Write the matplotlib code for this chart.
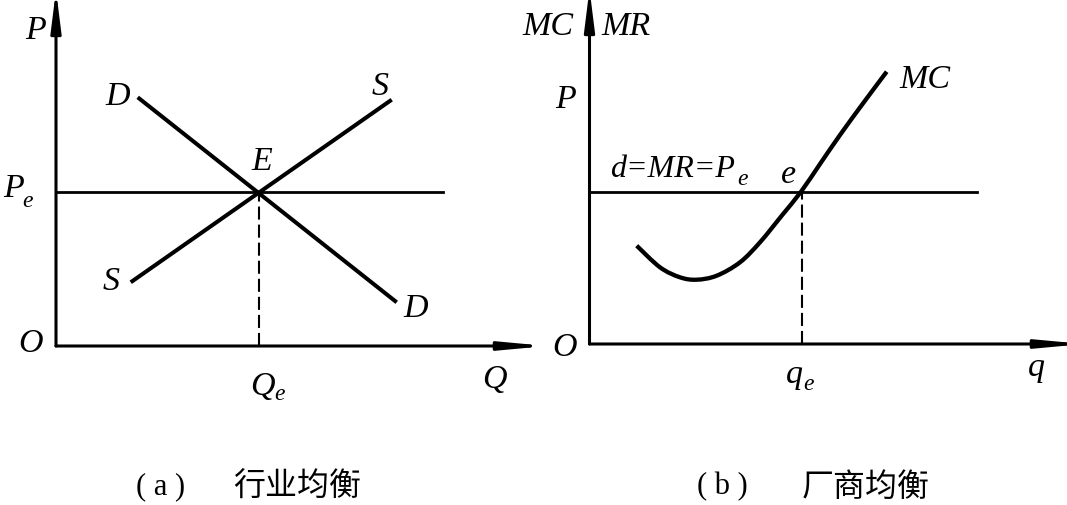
import matplotlib
matplotlib.use('Agg')
import matplotlib.pyplot as plt
from matplotlib.path import Path
from matplotlib.patches import PathPatch

plt.rcParams['font.family'] = ['Liberation Serif', 'DejaVu Serif']
plt.rcParams['lines.scale_dashes'] = False

# ---------------- data: panel (a) industry equilibrium ----------------
demand_q = [8.17, 34.07]
demand_p = [24.87, 4.37]
supply_q = [7.47, 33.57]
supply_p = [6.37, 24.63]
price_e_a = 15.4
qty_e_a = 20.3
price_line_end_a = 38.65
axis_end_a = (47.4, 34.6)

# ---------------- data: panel (b) firm equilibrium ----------------
mc_q = [4.72, 7.05, 9.05, 10.72, 12.72, 15.05, 17.05, 19.22, 21.15, 23.05, 25.05, 27.38, 29.72]
mc_c = [9.83, 7.67, 6.67, 6.43, 6.83, 8.17, 10.17, 12.83, 15.23, 18.0, 20.9, 24.1, 27.23]
price_e_b = 15.25
qty_e_b = 21.2
price_line_end_b = 38.75
axis_end_b = (47.75, 34.5)

caption_tags = ['( a )', '( b )']
captions = ['行业均衡', '厂商均衡']

W, H = 1067, 506
fig = plt.figure(figsize=(W / 100, H / 100), dpi=100)
axA = fig.add_axes([0, 0, 530 / W, 1])
axB = fig.add_axes([530 / W, 0, 537 / W, 1])
axA.set_xlim(-5.6, 47.4)
axA.set_ylim(-15.9, 34.7)
axB.set_xlim(-5.95, 47.75)
axB.set_ylim(-16.1, 34.5)
for ax in (axA, axB):
    ax.set_axis_off()

LBL = 24.5
SUB = 17


def axis_arrow(ax, x0, y0, x1, y1, hl, hw):
    # the filled head is drawn slightly short of xy; extend to reach the target tip
    dx = 1.7 if x1 != x0 else 0
    dy = 1.0 if y1 != y0 else 0
    ax.annotate('', xy=(x1 + dx, y1 + dy), xytext=(x0, y0),
                arrowprops=dict(arrowstyle=f'-|>,head_length={hl},head_width={hw}',
                                lw=2.2, color='black', shrinkA=0, shrinkB=0,
                                mutation_scale=1, clip_on=False),
                annotation_clip=False)


def lab(ax, x, y, s, size=LBL, ha='center'):
    ax.text(x, y, s, fontsize=size, style='italic', ha=ha, va='baseline', color='black')


def smooth_path(xs, ys):
    pts = list(zip(xs, ys))
    n = len(pts)
    verts = [pts[0]]
    codes = [Path.MOVETO]
    for i in range(n - 1):
        p0 = pts[i - 1] if i > 0 else pts[i]
        p1 = pts[i]
        p2 = pts[i + 1]
        p3 = pts[i + 2] if i + 2 < n else pts[i + 1]
        c1 = (p1[0] + (p2[0] - p0[0]) / 6, p1[1] + (p2[1] - p0[1]) / 6)
        c2 = (p2[0] - (p3[0] - p1[0]) / 6, p2[1] - (p3[1] - p1[1]) / 6)
        verts += [c1, c2, p2]
        codes += [Path.CURVE4] * 3
    return Path(verts, codes)


# ---- panel (a) ----
axis_arrow(axA, 0, 0, axis_end_a[0], 0, 26, 2.4)
axis_arrow(axA, 0, 0, 0, axis_end_a[1], 24, 3.0)
axA.plot([0, price_line_end_a], [price_e_a, price_e_a], color='black', lw=2.0)
axA.plot(demand_q, demand_p, color='black', lw=2.9, solid_capstyle='butt')
axA.plot(supply_q, supply_p, color='black', lw=2.9, solid_capstyle='butt')
axA.plot([qty_e_a, qty_e_a], [0, price_e_a], color='black', lw=1.5, dashes=(9.4, 3.6))

lab(axA, -2.05, 30.8, 'P')
lab(axA, -4.25, 15.0, 'P')
lab(axA, -2.85, 14.0, 'e', SUB)
lab(axA, -2.55, -0.5, 'O')
lab(axA, 6.15, 24.2, 'D')
lab(axA, 32.4, 25.2, 'S')
lab(axA, 20.6, 17.7, 'E')
lab(axA, 5.5, 5.7, 'S')
lab(axA, 36.0, 3.0, 'D')
lab(axA, 20.65, -4.8, 'Q')
lab(axA, 22.4, -5.3, 'e', SUB)
lab(axA, 43.85, -4.1, 'Q')

# ---- panel (b) ----
axis_arrow(axB, 0, 0, axis_end_b[0], 0, 26, 2.4)
axis_arrow(axB, 0, 0, 0, axis_end_b[1], 24, 3.0)
axB.plot([0, price_line_end_b], [price_e_b, price_e_b], color='black', lw=2.0)
axB.add_patch(PathPatch(smooth_path(mc_q, mc_c), fill=False, lw=3.1,
                        edgecolor='black', capstyle='butt', joinstyle='round'))
axB.plot([qty_e_b, qty_e_b], [0, price_e_b], color='black', lw=1.5, dashes=(9.4, 3.6))

lab(axB, -4.2, 31.0, 'MC')
lab(axB, 3.6, 31.0, 'MR')
lab(axB, -2.35, 23.7, 'P')
lab(axB, 2.05, 16.8, 'd=MR=P', 23, ha='left')
lab(axB, 15.35, 16.0, 'e', SUB)
lab(axB, 19.95, 16.2, 'e')
lab(axB, 33.55, 25.7, 'MC')
lab(axB, -2.45, -1.1, 'O')
lab(axB, 20.5, -3.8, 'q')
lab(axB, 21.9, -4.5, 'e', SUB)
lab(axB, 44.7, -3.1, 'q')

# ---- captions ----
cy = 1 - 487 / H
fig.text(161 / W, cy, caption_tags[0], fontsize=22, ha='center', va='center',
         family=['Liberation Serif'])
fig.text(297 / W, cy, captions[0], fontsize=23, ha='center', va='center',
         family=['Noto Sans CJK SC', 'DejaVu Sans'])
fig.text(722 / W, cy, caption_tags[1], fontsize=22, ha='center', va='center',
         family=['Liberation Serif'])
fig.text(866 / W, cy, captions[1], fontsize=23, ha='center', va='center',
         family=['Noto Sans CJK SC', 'DejaVu Sans'])

fig.savefig('out.png', dpi=100, facecolor='white')
